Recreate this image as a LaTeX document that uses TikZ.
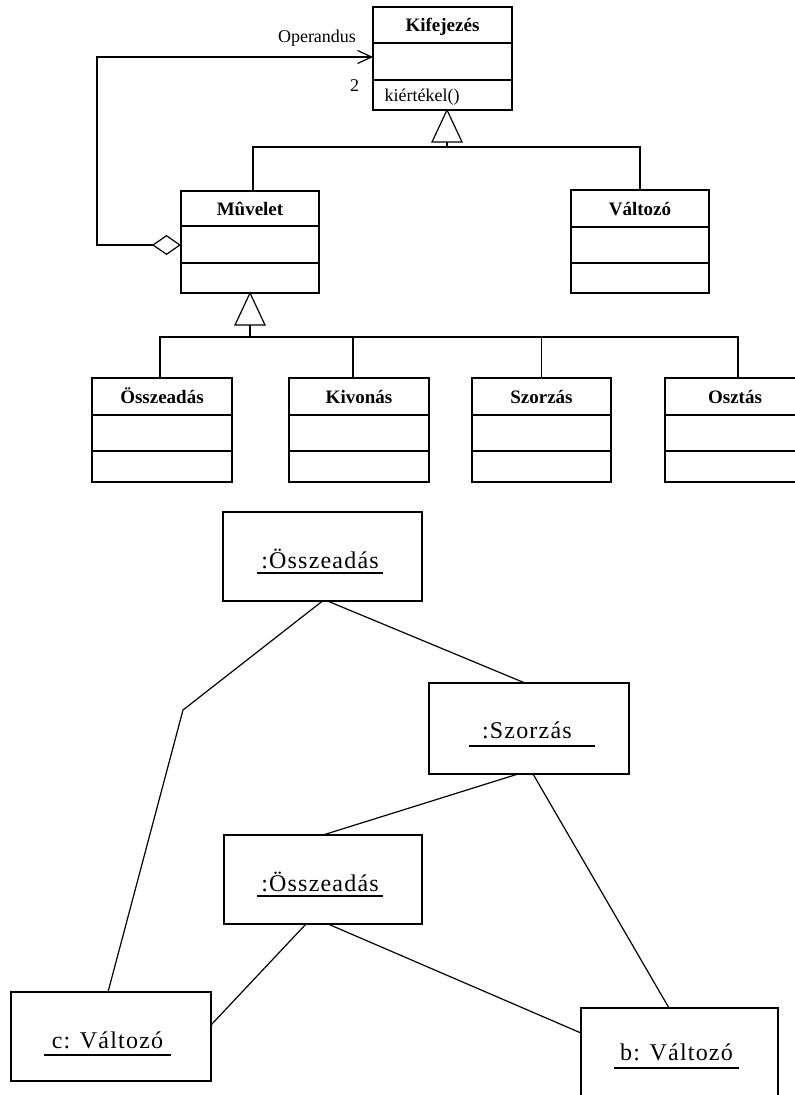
\documentclass[tikz,border=0pt]{standalone}
\usepackage{fontspec}
\setmainfont{Liberation Serif}
\newfontfamily\objfont[LetterSpace=5]{Liberation Serif}
\usetikzlibrary{arrows.meta}
\newcommand\umlcls[8]{%
  \node[clsbox,minimum width=#4pt,minimum height=#5pt] (#1) at (#2,#3) {};
  \draw (#1.north west) ++(0,#6) -- ++(#4,0);
  \draw (#1.north west) ++(0,#7) -- ++(#4,0);
  \path (#1.north) ++(0,#6/2) node[clsname] (#1n) {#8};
}
\begin{document}
\begin{tikzpicture}[x=1pt,y=-1pt,line width=1.2pt,
  clsbox/.style={draw,rectangle,inner sep=0pt,outer sep=0pt,anchor=north west},
  clsname/.style={font=\fontsize{19}{22}\selectfont\bfseries,inner sep=0pt,text height=13pt,text depth=0pt},
  lbl/.style={font=\fontsize{18}{21}\selectfont,inner sep=0pt,text height=12.5pt,text depth=0pt},
  objbox/.style={draw,rectangle,inner sep=0pt,outer sep=0pt,anchor=north west},
  objlbl/.style={font=\objfont\fontsize{24}{28}\selectfont,inner sep=0pt,anchor=base}]
\clip (0,0) rectangle (795,1095);

% ---------- class diagram ----------
\umlcls{kif}{373}{7}{139}{103}{36}{73}{Kifejezés}
\umlcls{mu}{181}{191}{138}{102}{35}{72}{Mûvelet}
\umlcls{val}{571}{190}{138}{103}{37}{73}{Változó}
\umlcls{ossz}{92}{378}{140}{104}{37}{73}{Összeadás}
\umlcls{kiv}{289}{378}{140}{104}{37}{73}{Kivonás}
\umlcls{szor}{472}{378}{139}{104}{37}{73}{Szorzás}
\umlcls{oszt}{665}{378}{140}{104}{37}{73}{Osztás}

\path (kif.north west) ++(11,88) node[lbl,anchor=west] (kiert) {kiértékel()};
\node[lbl] (operandus) at (317,36) {Operandus};
\node[lbl] (mult) at (354.5,85.5) {2};

% aggregation
\draw[{Diamond[open,length=29pt,width=20pt]}-{Straight Barb[length=14pt,width=13pt]}]
  ([yshift=-3pt]mu.west) -- ++(-84,0) |- ([yshift=1.5pt]kif.west);

% generalization 1
\coordinate (g1) at ([xshift=4.5pt]kif.south);
\draw (g1) -- ++(15,32) -- ++(-30,0) -- cycle;
\draw (g1) ++(0,32) -- ++(0,5) coordinate (j1);
\draw ([xshift=3pt]mu.north) |- (j1) -| (val.north);

% generalization 2
\coordinate (g2) at (mu.south);
\draw (g2) -- ++(15,32) -- ++(-30,0) -- cycle;
\draw (g2) ++(0,32) -- ++(0,12) coordinate (j2);
\draw ([xshift=-2pt]ossz.north) |- (j2) -| ([xshift=3pt]oszt.north);
\draw (j2) -| ([xshift=-6pt]kiv.north);
\draw (j2) -| (szor.north);

% ---------- object diagram ----------
\node[objbox,minimum width=199pt,minimum height=89pt] (o1) at (223,512) {};
\node[objbox,minimum width=200pt,minimum height=91pt] (sz) at (429,683) {};
\node[objbox,minimum width=198pt,minimum height=89pt] (o2) at (224,835) {};
\node[objbox,minimum width=200pt,minimum height=89pt] (cv) at (11,992) {};
\node[objbox,minimum width=197pt,minimum height=110pt] (bv) at (581,1008) {};

\node[objlbl] (o1l) at (320,568) {\makebox[124pt]{:Összeadás}};
\draw ([yshift=-5pt]o1l.base west) -- ([yshift=-5pt]o1l.base east);
\node[objlbl] (szl) at (532,738) {\makebox[124pt][l]{\hspace{12pt}:Szorzás}};
\draw ([yshift=-8pt]szl.base west) -- ([yshift=-8pt]szl.base east);
\node[objlbl] (o2l) at (320,891) {\makebox[124pt]{:Összeadás}};
\draw ([yshift=-5pt]o2l.base west) -- ([yshift=-5pt]o2l.base east);
\node[objlbl] (cvl) at (107.5,1048) {\makebox[125pt]{c: Változó}};
\draw ([yshift=-7pt]cvl.base west) -- ([yshift=-7pt]cvl.base east);
\node[objlbl] (bvl) at (676.5,1060) {\makebox[123pt]{b: Változó}};
\draw ([yshift=-8pt]bvl.base west) -- ([yshift=-8pt]bvl.base east);

\coordinate (bend) at (183,710);
\draw (o1.south) -- (bend) -- ([xshift=-3pt]cv.north);
\draw ([xshift=5pt]o1.south) -- ([xshift=-4pt]sz.north);
\draw ([xshift=-11pt]sz.south) -- (o2.north);
\draw ([xshift=4pt]sz.south) -- ([xshift=-10.5pt]bv.north);
\draw ([xshift=-17pt]o2.south) -- ([yshift=11.5pt]cv.east);
\draw ([xshift=5pt]o2.south) -- ([yshift=30pt]bv.west);
\end{tikzpicture}
\end{document}
